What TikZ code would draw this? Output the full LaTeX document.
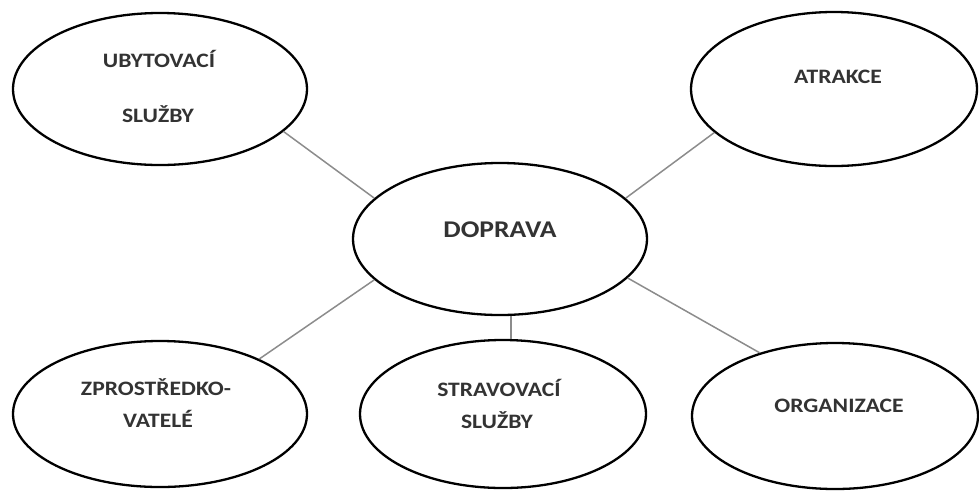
\documentclass[tikz,border=0pt]{standalone}
\usepackage{fontspec}
\setmainfont{Carlito}[FakeStretch=1.15]
\usetikzlibrary{shapes.geometric}
\definecolor{txt}{HTML}{333333}
\definecolor{conn}{HTML}{8C8C8C}
\tikzset{
  oval/.style={ellipse, draw=black, line width=2.3pt, fill=white, inner sep=0pt},
  lbl/.style={anchor=base, text=txt, font=\bfseries\fontsize{20.5}{24}\selectfont, inner sep=0pt},
  biglbl/.style={anchor=base, text=txt, font=\bfseries\fontsize{24}{28}\selectfont, inner sep=0pt},
  conline/.style={draw=conn, line width=1.5pt}
}
\begin{document}
\begin{tikzpicture}[x=1pt,y=-1pt]
\useasboundingbox (0,0) rectangle (979,491);
% connectors first (drawn under ellipses)
\node[oval, minimum width=294pt, minimum height=152pt] (ub) at (160,89) {};
\node[oval, minimum width=286pt, minimum height=154pt] (at) at (834,89) {};
\node[oval, minimum width=294pt, minimum height=152pt] (dop) at (500,239) {};
\node[oval, minimum width=294pt, minimum height=146pt] (zp) at (160,414) {};
\node[oval, minimum width=286pt, minimum height=148pt] (st) at (503,414) {};
\node[oval, minimum width=286pt, minimum height=146pt] (org) at (835,416) {};

\draw[conline] (ub.-19) -- (dop.162);
\draw[conline] (at.200) -- (dop.18);
\draw[conline] (zp.29) -- (dop.-162.5);
\draw[conline] (org.140.6) -- (dop.-17);
\draw[conline] (dop.-82.5) -- (st.north -| dop.-82.5);

\node[lbl] (t1a) at (159,67) {UBYTOVACÍ};
\node[lbl] (t1b) at (158,122) {SLUŽBY};
\node[lbl] (t2) at (838,83) {ATRAKCE};
\node[biglbl] (t3) at (500,237) {DOPRAVA};
\node[lbl] (t4a) at (156,395) {ZPROSTŘEDKO-};
\node[lbl] (t4b) at (158,427) {VATELÉ};
\node[lbl] (t5a) at (499,396) {STRAVOVACÍ};
\node[lbl] (t5b) at (497,428) {SLUŽBY};
\node[lbl] (t6) at (839,412) {ORGANIZACE};
\end{tikzpicture}
\end{document}
